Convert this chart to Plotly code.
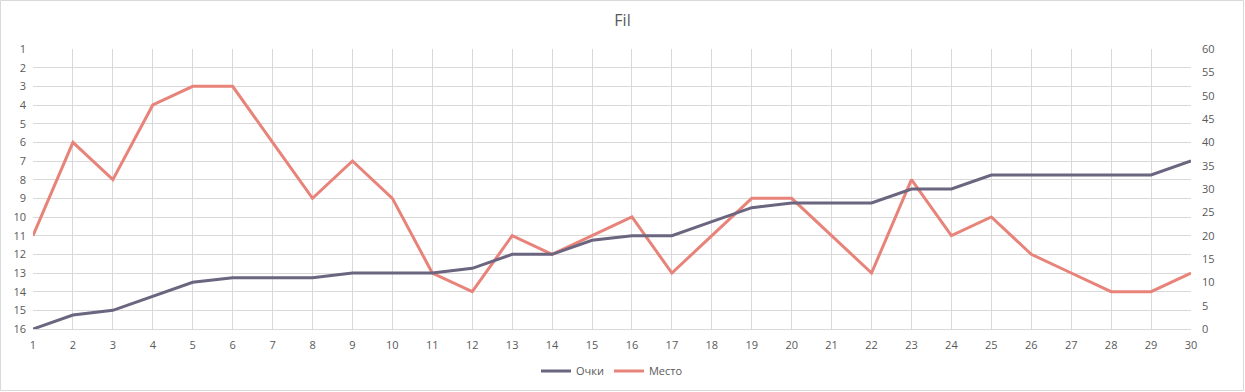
import plotly.graph_objects as go

rounds = list(range(1, 31))
points = [0, 3, 4, 7, 10, 11, 11, 11, 12, 12, 12, 13, 16, 16, 19, 20, 20, 23, 26, 27,
          27, 27, 30, 30, 33, 33, 33, 33, 33, 36]
place = [11, 6, 8, 4, 3, 3, 6, 9, 7, 9, 13, 14, 11, 12, 11, 10, 13, 11, 9, 9,
         11, 13, 8, 11, 10, 12, 13, 14, 14, 13]
left_ticks = list(range(1, 17))
right_ticks = list(range(0, 61, 5))

W, H = 1245, 392
L, R, T, B = 33, 54, 49, 63
FONT = "Open Sans"
GREY = "#595959"

fig = go.Figure()
fig.add_trace(go.Scatter(x=rounds, y=points, name="Очки", mode="lines",
                         line=dict(color="#6b6580", width=3), yaxis="y2"))
fig.add_trace(go.Scatter(x=rounds, y=place, name="Место", mode="lines",
                         line=dict(color="#e8837a", width=3), yaxis="y"))

pw = W - L - R
ph = H - T - B
fig.update_layout(
    width=W, height=H,
    margin=dict(l=L, r=R, t=T, b=B, autoexpand=False),
    paper_bgcolor="white", plot_bgcolor="white",
    font=dict(family=FONT, size=11, color=GREY),
    title=dict(text="Fil", x=0.5, xanchor="center", y=1 - 20 / H, yanchor="middle",
               font=dict(family=FONT, size=16, color=GREY)),
    xaxis=dict(range=[1, 30], tickmode="array", tickvals=rounds, ticktext=[str(r) for r in rounds],
               showgrid=True, gridcolor="#d9d9d9", gridwidth=1, zeroline=False,
               showline=True, linecolor="#d9d9d9", linewidth=1, ticks="", ticklen=0,
               ticklabelstandoff=6, automargin=False,
               tickfont=dict(size=11, color=GREY)),
    yaxis=dict(range=[16, 1], tickmode="array", tickvals=left_ticks,
               showgrid=True, gridcolor="#d9d9d9", gridwidth=1, zeroline=False,
               showline=False, ticks="", ticklabelstandoff=6, automargin=False,
               tickfont=dict(size=11, color=GREY)),
    yaxis2=dict(range=[0, 60], tickmode="array", tickvals=right_ticks, overlaying="y",
                side="right", showgrid=False, zeroline=False, showline=False, ticks="",
                ticklabelstandoff=10, automargin=False,
                tickfont=dict(size=11, color=GREY)),
    legend=dict(orientation="h", x=0.5, xanchor="center", y=-(371 - (H - B)) / ph,
                yanchor="middle", font=dict(size=11, color=GREY), itemwidth=30,
                traceorder="normal"),
    showlegend=True,
    shapes=[dict(type="rect", xref="paper", yref="paper",
                 x0=-(L - 0.5) / pw, x1=1 + (R - 1.5) / pw,
                 y0=-(B - 1.5) / ph, y1=1 + (T - 0.5) / ph,
                 line=dict(color="#d9d9d9", width=1), fillcolor="rgba(0,0,0,0)", layer="below")],
)

fig.write_html("out.html", config={"displayModeBar": False},
               post_script="document.body.style.margin='0px';document.body.style.overflow='hidden';")
